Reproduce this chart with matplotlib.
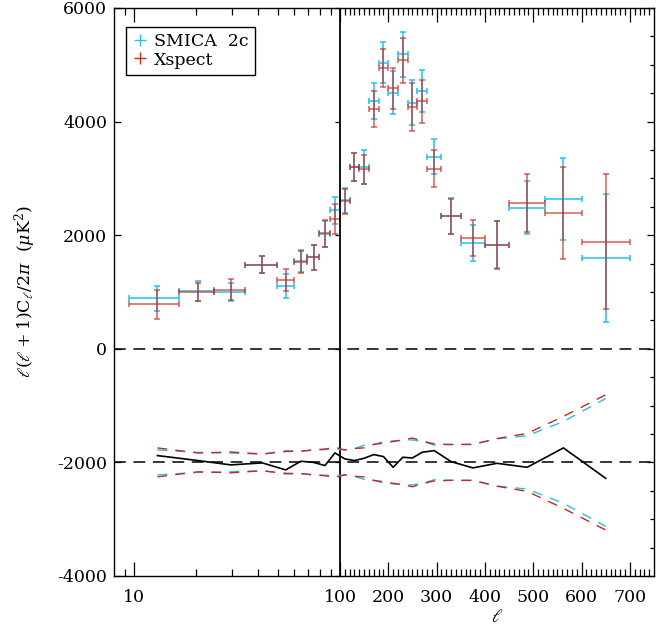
import numpy as np
import matplotlib
matplotlib.use('Agg')
import matplotlib.pyplot as plt
from matplotlib.lines import Line2D
from matplotlib import markers

# binned spectra: bin centre, bin edges
ell = np.array([13, 20.5, 29.5, 42, 54.5, 64.5, 74.5, 84.5, 94.5,
                110, 130, 150, 170, 190, 210, 230, 250, 270, 295,
                330, 375, 425, 487.5, 562.5, 650])
ell_lo = np.array([9.5, 16.5, 24.5, 34.5, 49.5, 59.5, 69.5, 79.5, 89.5,
                   100, 120, 140, 160, 180, 200, 220, 240, 260, 280,
                   310, 350, 400, 450, 525, 600])
ell_hi = np.array([16.5, 24.5, 34.5, 49.5, 59.5, 69.5, 79.5, 89.5, 99.5,
                   120, 140, 160, 180, 200, 220, 240, 260, 280, 310,
                   350, 400, 450, 525, 600, 700])

smica = np.array([891, 1010, 998, 1480, 1105, 1545, 1614, 2026, 2437,
                  2613, 3205, 3200, 4360, 5040, 4505, 5185, 4330, 4540, 3385,
                  2340, 1865, 1833, 2487, 2643, 1597])
smica_err = np.array([220, 176, 165, 147, 205, 197, 220, 225, 235,
                      220, 244, 300, 315, 367, 379, 391, 396, 368, 306,
                      315, 315, 415, 470, 720, 1125])
xspect = np.array([781, 1000, 1040, 1480, 1216, 1530, 1614, 2030, 2290,
                   2596, 3195, 3160, 4222, 4940, 4584, 5080, 4258, 4357, 3170,
                   2330, 1958, 1833, 2560, 2396, 1886])
xspect_err = np.array([255, 165, 183, 147, 192, 197, 220, 235, 264,
                       220, 244, 256, 318, 338, 368, 393, 429, 376, 326,
                       315, 318, 420, 510, 810, 1190])
# difference (SMICA - Xspect), drawn shifted to -2000
diff = np.array([-1880, -1968, -2044, -2009, -2132, -1980, -2000, -2056, -1833,
                 -1938, -1968, -1927, -1862, -1898, -2086, -1910, -1922, -1822, -1792,
                 -1986, -2097, -2016, -2086, -1745, -2280])
offset = -2000

xticks = [10, 100, 200, 300, 400, 500, 600, 700]
yticks = [-4000, -2000, 0, 2000, 4000, 6000]

CYAN = '#22C0F0'
RED = '#C8281C'

plt.rcParams['font.family'] = 'DejaVu Serif'
plt.rcParams['mathtext.fontset'] = 'dejavuserif'
plt.rcParams['lines.scale_dashes'] = False

# hybrid axis: log up to 100, linear above
WL, WR = 226., 314.
XMIN, XBRK, XMAX = 8., 100., 750.
LOGSPAN = np.log10(XBRK) - np.log10(XMIN)


def forward(x):
    x = np.asarray(x, dtype=float)
    lg = (np.log10(np.clip(x, 1e-3, None)) - np.log10(XMIN)) / LOGSPAN * WL
    lin = WL + (x - XBRK) * WR / (XMAX - XBRK)
    return np.where(x <= XBRK, lg, lin)


def inverse(u):
    u = np.asarray(u, dtype=float)
    lg = 10 ** (np.clip(u, -1e3, WL) / WL * LOGSPAN + np.log10(XMIN))
    lin = XBRK + (u - WL) * (XMAX - XBRK) / WR
    return np.where(u <= WL, lg, lin)


fig = plt.figure(figsize=(6.72, 6.27), dpi=100)
ax = fig.add_axes([114 / 672, 51 / 627, 540 / 672, 568 / 627])
ax.set_xscale('function', functions=(forward, inverse))
ax.set_xlim(XMIN, XMAX)
ax.set_ylim(-4000, 6000)

xerr = [ell - ell_lo, ell_hi - ell]
ax.errorbar(ell, smica, xerr=xerr, yerr=smica_err, fmt='none',
            ecolor=CYAN, elinewidth=1.1, capsize=2.5, capthick=1.1)
ax.errorbar(ell, xspect, xerr=xerr, yerr=xspect_err, fmt='none',
            ecolor=RED, elinewidth=1.1, capsize=2.5, capthick=1.1, alpha=0.75)

# reference lines
ax.axhline(0, color='k', lw=1.1, dashes=(8.5, 5.5))
ax.axhline(offset, color='k', lw=1.1, dashes=(8.5, 5.5))
ax.axvline(XBRK, color='k', lw=1.3)

# error envelopes around the difference
for err, col in ((smica_err, CYAN), (xspect_err, RED)):
    ax.plot(ell, offset + err, color=col, lw=1.0, dashes=(7, 6))
    ax.plot(ell, offset - err, color=col, lw=1.0, dashes=(7, 6))
ax.plot(ell, diff, color='k', lw=1.2)

# ticks
xminor = [9] + list(range(20, 100, 10)) + [v for v in range(110, 750, 10) if v % 100]
ax.set_xticks(xticks, [str(v) for v in xticks])
ax.set_xticks(xminor, minor=True)
ax.set_yticks(yticks, [str(v) for v in yticks])
ax.set_yticks(np.arange(-4000, 6001, 500), minor=True)
ax.tick_params(axis='both', which='both', direction='in', top=True, right=True,
               labelsize=12.5, width=0.9, colors='k')
ax.tick_params(axis='x', which='major', length=10, pad=9)
ax.tick_params(axis='x', which='minor', length=5)
ax.tick_params(axis='y', which='major', length=5, pad=5)
ax.tick_params(axis='y', which='minor', length=3, left=False)
ax.plot([XBRK] * len(yticks), yticks, ls='none', marker=markers.TICKLEFT,
        ms=3.6, mew=0.9, color='k', clip_on=False)
for s in ax.spines.values():
    s.set_linewidth(1.0)

ax.set_xlabel(r'$\ell$', fontsize=13)
ax.xaxis.set_label_coords((497 - 114) / 540, -0.056)
ax.set_ylabel(r'$\ell(\ell+1)\mathrm{C}_{\ell}/2\pi\ \ (\mu\mathrm{K}^2)$', fontsize=12.5)
ax.yaxis.set_label_coords(-0.14, 0.5)

handles = [Line2D([], [], ls='none', marker='+', ms=8.5, mew=1.0, color=CYAN),
           Line2D([], [], ls='none', marker='+', ms=8.5, mew=1.0, color=RED)]
leg = ax.legend(handles, ['SMICA  2c', 'Xspect'], loc='upper left',
                bbox_to_anchor=(0.0217, 0.967), borderaxespad=0, fontsize=12.5,
                frameon=True, fancybox=False, framealpha=1, edgecolor='k',
                handlelength=1.0, handletextpad=0.3, borderpad=0.35,
                labelspacing=0.1)
leg.get_frame().set_linewidth(1.0)

fig.savefig('out.png', dpi=100)
